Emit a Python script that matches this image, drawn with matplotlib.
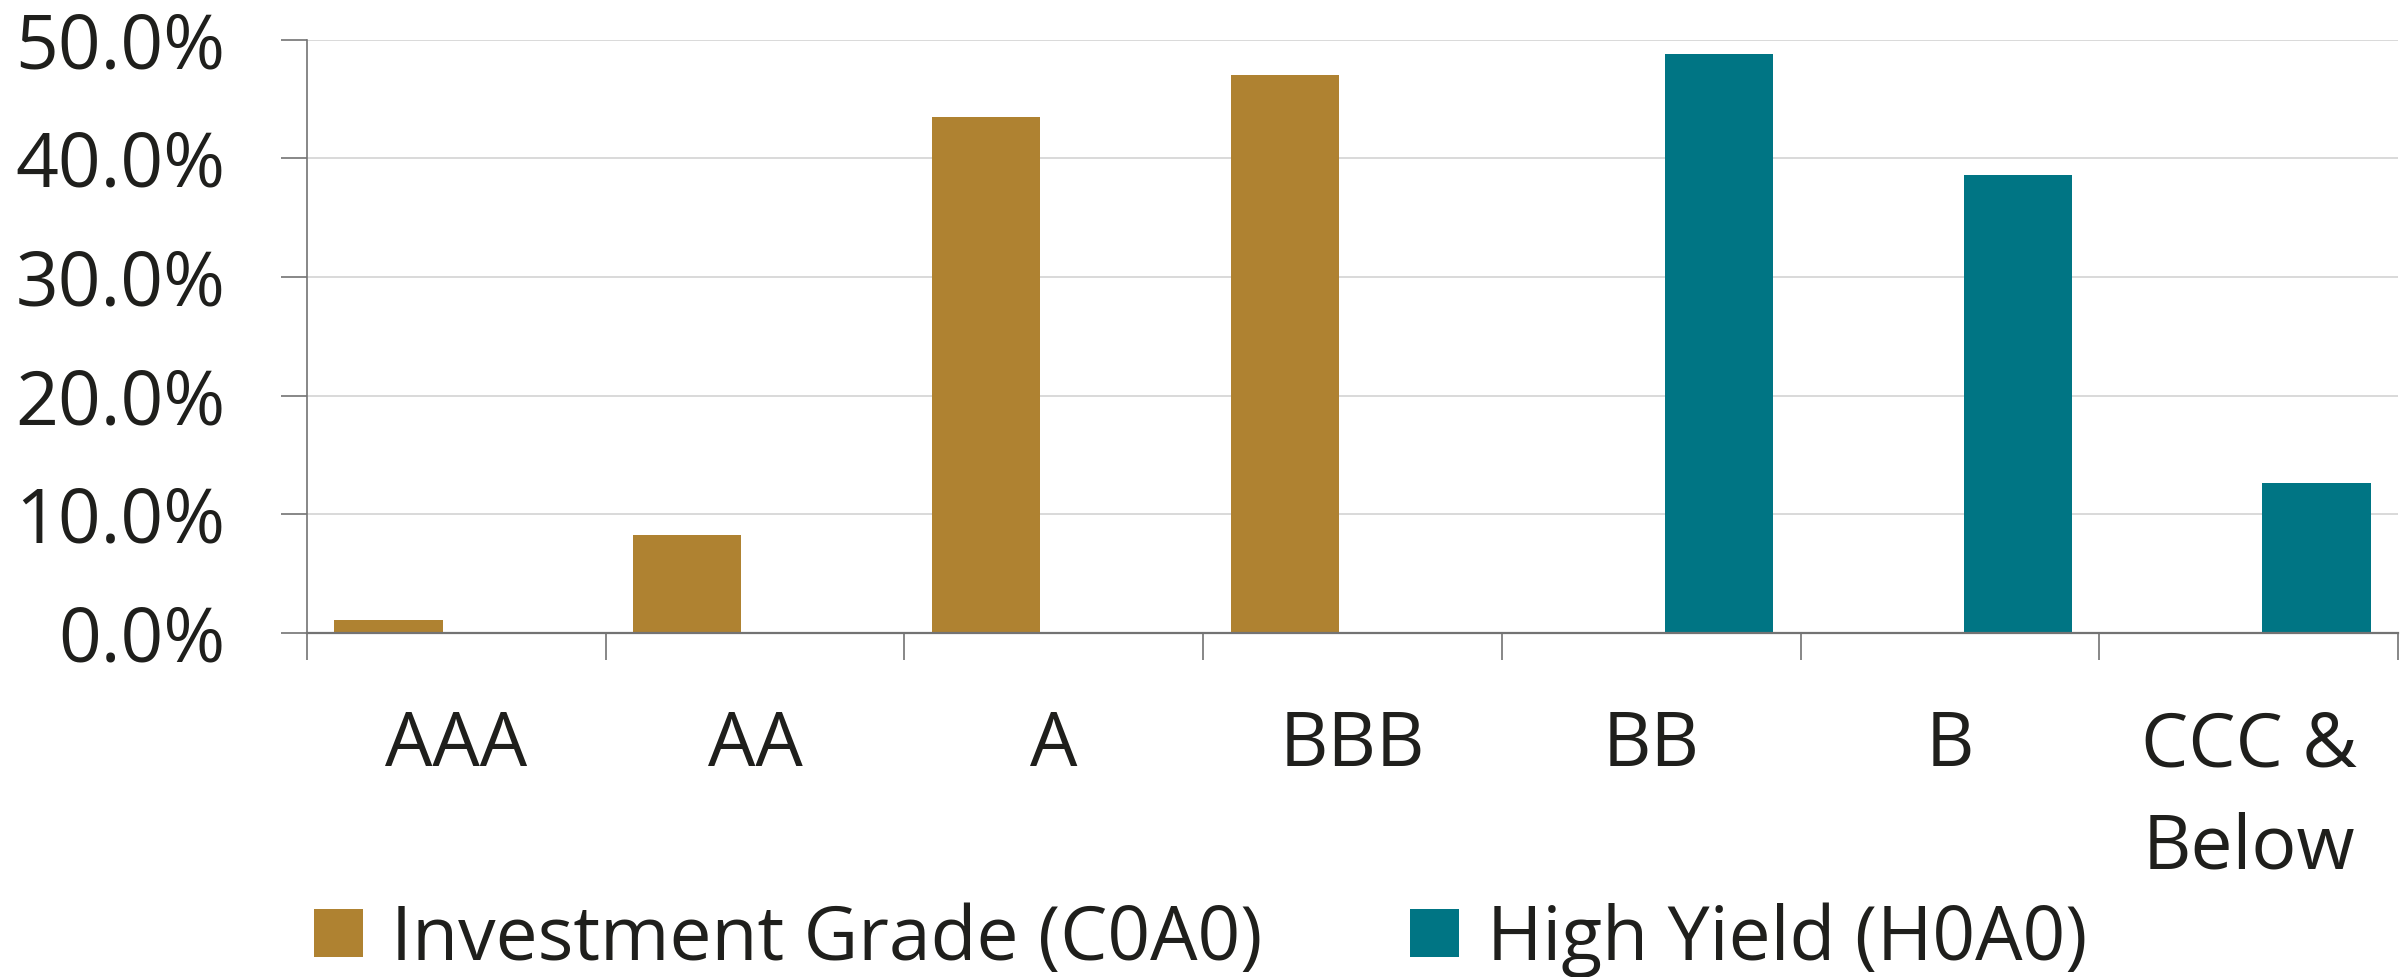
import matplotlib
matplotlib.use("Agg")
import matplotlib.pyplot as plt
from matplotlib.ticker import FixedLocator, FuncFormatter
import numpy as np

# Credit-quality breakdown of the two ICE BofA indices (% of market value)
ratings = ["AAA", "AA", "A", "BBB", "BB", "B", "CCC &\nBelow"]
investment_grade = [1.1, 8.3, 43.5, 47.0, 0.0, 0.0, 0.0]
high_yield = [0.0, 0.0, 0.0, 0.0, 48.8, 38.6, 12.6]
series_labels = ["Investment Grade (C0A0)", "High Yield (H0A0)"]
y_ticks = [0, 10, 20, 30, 40, 50]

IG_COLOR = "#AF8231"
HY_COLOR = "#007584"
TEXT_COLOR = "#1f1f1c"
AXIS_COLOR = "#737373"
GRID_COLOR = "#d9d9d9"

plt.rcParams["font.family"] = ["Open Sans", "DejaVu Sans"]
FS = 54

W, H = 2405, 977
fig = plt.figure(figsize=(W / 100, H / 100), dpi=100)
ax = fig.add_axes([307 / W, 1 - 633 / H, (2398 - 307) / W, (633 - 39.7) / H])

x = np.arange(len(ratings))
bw = 0.362
off = 0.227
ax.bar(x - off, investment_grade, width=bw, color=IG_COLOR, label=series_labels[0], zorder=3)
ax.bar(x + off, high_yield, width=bw, color=HY_COLOR, label=series_labels[1], zorder=3)

ax.set_xlim(-0.5, len(ratings) - 0.5)
ax.set_ylim(0, 50)

# y axis
ax.yaxis.set_major_locator(FixedLocator(y_ticks))
ax.yaxis.set_major_formatter(FuncFormatter(lambda v, p: f"{v:.1f}%"))
ax.tick_params(axis="y", which="major", direction="out", length=18.7, width=1.2,
               color=AXIS_COLOR, labelsize=FS, labelcolor=TEXT_COLOR, pad=40)
ax.yaxis.grid(True, color=GRID_COLOR, linewidth=1.4, zorder=0)
ax.set_axisbelow(True)

# x axis: boundary ticks, labels centred on categories
ax.xaxis.set_major_locator(FixedLocator(np.arange(-0.5, len(ratings), 1.0)))
ax.xaxis.set_major_formatter(FuncFormatter(lambda v, p: ""))
ax.xaxis.set_minor_locator(FixedLocator(x))
ax.set_xticklabels(ratings, minor=True)
ax.tick_params(axis="x", which="major", direction="out", length=19.4, width=1.2,
               color=AXIS_COLOR)
ax.tick_params(axis="x", which="minor", length=0, labelsize=FS, labelcolor=TEXT_COLOR, pad=55)
for lbl in ax.get_xticklabels(minor=True):
    lbl.set_linespacing(1.47)
    lbl.set_verticalalignment("top")

for side in ["top", "right"]:
    ax.spines[side].set_visible(False)
ax.spines["left"].set_color(AXIS_COLOR)
ax.spines["left"].set_linewidth(1.2)
ax.spines["bottom"].set_color(AXIS_COLOR)
ax.spines["bottom"].set_linewidth(1.6)
ax.spines["bottom"].set_zorder(4)

em = FS * 100 / 72
fig.legend(loc="center left", bbox_to_anchor=(314 / W, 1 - 940 / H), ncol=2,
           frameon=False, fontsize=FS, labelcolor=TEXT_COLOR,
           handlelength=49 / em, handleheight=46 / em, handletextpad=28 / em,
           columnspacing=148 / em, borderpad=0, borderaxespad=0)

fig.savefig("out.png", dpi=100, facecolor="white")
